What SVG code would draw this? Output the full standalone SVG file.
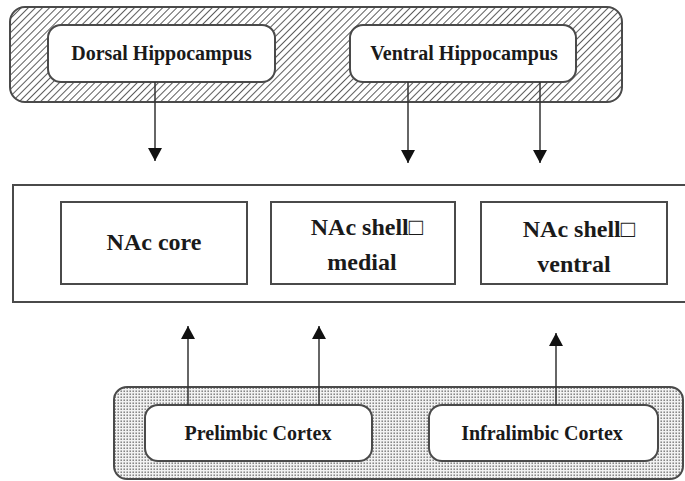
<svg xmlns="http://www.w3.org/2000/svg" width="685" height="481" viewBox="0 0 685 481">
<defs>
<pattern id="hatch" patternUnits="userSpaceOnUse" width="5" height="5" patternTransform="rotate(45)">
<rect width="5" height="5" fill="#ffffff"/>
<line x1="0" y1="0" x2="0" y2="5" stroke="#333333" stroke-width="1.6"/>
</pattern>
<pattern id="dots" patternUnits="userSpaceOnUse" width="3" height="3">
<rect width="3" height="3" fill="#f2f2f2"/>
<rect x="0.5" y="0.5" width="1.4" height="1.4" fill="#6e6e6e"/>
</pattern>
<marker id="arrow" viewBox="0 0 14 14" refX="13" refY="7" markerWidth="14" markerHeight="14" markerUnits="userSpaceOnUse" orient="auto">
<path d="M0,0 L13,7 L0,14 Z" fill="#111"/>
</marker>
</defs>
<style>
.frame{stroke:#4a4a4a;stroke-width:2}
.box{fill:#ffffff;stroke:#4a4a4a;stroke-width:2}
.conn{stroke:#333;stroke-width:1.5;fill:none;marker-end:url(#arrow)}
.t{font-family:"Liberation Serif","Times New Roman",serif;font-weight:bold;fill:#1a1a1a;text-anchor:middle}
.small{font-size:20px}
.big{font-size:24px}
</style>
<g id="hippocampus-group">
<rect class="frame" x="10" y="7" width="612" height="95" rx="15" fill="url(#hatch)"/>
</g>
<g id="dorsal-hippocampus">
<rect class="box" x="48" y="25" width="227" height="57" rx="13"/>
<text class="t small" x="161.5" y="60">Dorsal Hippocampus</text>
</g>
<g id="ventral-hippocampus">
<rect class="box" x="350" y="25" width="226" height="57" rx="13"/>
<text class="t small" x="464" y="60">Ventral Hippocampus</text>
</g>
<g id="nac-group">
<rect class="frame" x="13" y="185" width="680" height="117" fill="#ffffff"/>
</g>
<g id="nac-core">
<rect class="box" x="61" y="202" width="186" height="82"/>
<text class="t big" x="154" y="250">NAc core</text>
</g>
<g id="nac-shell-medial">
<rect class="box" x="271" y="202" width="184" height="82"/>
<text class="t big" x="367" y="235">NAc shell□</text>
<text class="t big" x="362" y="270">medial</text>
</g>
<g id="nac-shell-ventral">
<rect class="box" x="481" y="202" width="186" height="82"/>
<text class="t big" x="579" y="237">NAc shell□</text>
<text class="t big" x="574" y="272">ventral</text>
</g>
<g id="cortex-group">
<rect class="frame" x="114" y="387" width="569" height="92" rx="13" fill="url(#dots)"/>
</g>
<g id="prelimbic-cortex">
<rect class="box" x="145" y="405" width="227" height="56" rx="13"/>
<text class="t small" x="258" y="440">Prelimbic Cortex</text>
</g>
<g id="infralimbic-cortex">
<rect class="box" x="429" y="405" width="229" height="56" rx="13"/>
<text class="t small" x="542" y="440">Infralimbic Cortex</text>
</g>
<g id="connectors">
<line class="conn" x1="155" y1="82" x2="155" y2="161"/>
<line class="conn" x1="408" y1="82" x2="408" y2="163"/>
<line class="conn" x1="540" y1="82" x2="540" y2="163"/>
<line class="conn" x1="188" y1="405" x2="188" y2="326"/>
<line class="conn" x1="319" y1="405" x2="319" y2="326"/>
<line class="conn" x1="556" y1="405" x2="556" y2="333"/>
</g>
</svg>
